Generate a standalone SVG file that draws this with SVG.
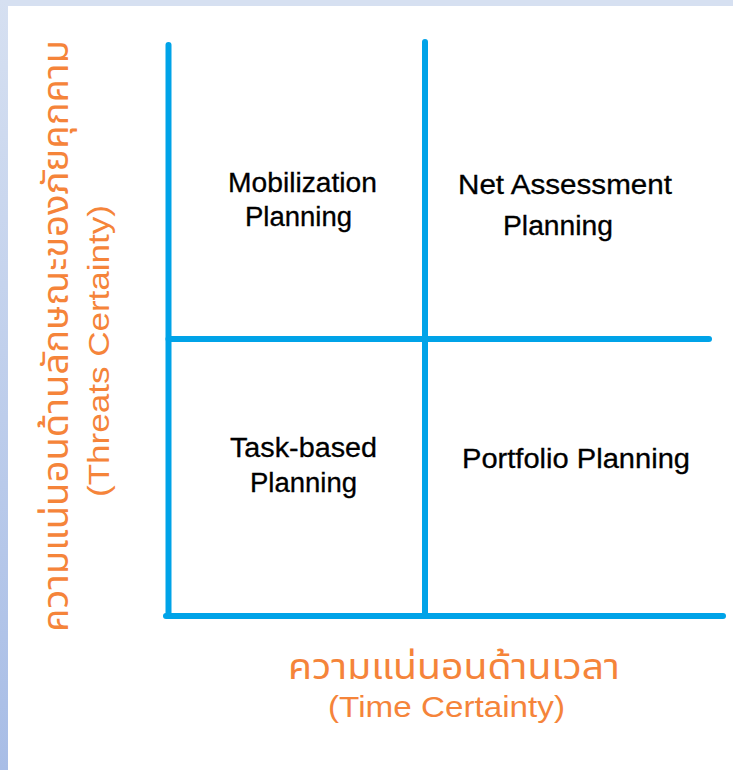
<svg xmlns="http://www.w3.org/2000/svg" width="733" height="770" viewBox="0 0 733 770">
  <defs>
    <linearGradient id="sideGrad" x1="0" y1="0" x2="0" y2="1">
      <stop offset="0" stop-color="#d6e0f1"/>
      <stop offset="1" stop-color="#a8bde6"/>
    </linearGradient>
    <style>
      .grid { stroke: #00a3e8; stroke-width: 6; stroke-linecap: round; fill: none; }
      .lbl { font-family: "Liberation Sans", Arial, sans-serif; font-size: 27px; fill: #000000; stroke: #000000; stroke-width: 0.3; }
      .axis { font-family: "Liberation Sans", "Noto Sans Thai", "Noto Sans", "DejaVu Sans", sans-serif; fill: #f5843a; }
      .thai { font-size: 35px; }
      .eng { font-size: 30px; }
    </style>
  </defs>
  <rect x="0" y="0" width="733" height="770" fill="#d6e0f1"/>
  <rect x="0" y="0" width="8" height="770" fill="url(#sideGrad)"/>
  <rect x="8" y="6" width="725" height="764" fill="#ffffff"/>

  <g id="connectors">
    <line class="grid" x1="168.5" y1="45" x2="168.5" y2="616"/>
    <line class="grid" x1="425" y1="42" x2="425" y2="616"/>
    <line class="grid" x1="168.5" y1="339" x2="709" y2="339"/>
    <line class="grid" x1="166" y1="616" x2="723" y2="616"/>
  </g>

  <g id="mobilization">
    <text class="lbl" x="228" y="192" textLength="149" lengthAdjust="spacingAndGlyphs">Mobilization</text>
    <text class="lbl" x="245" y="226" textLength="107" lengthAdjust="spacingAndGlyphs">Planning</text>
  </g>
  <g id="net-assessment">
    <text class="lbl" x="458" y="194" textLength="214" lengthAdjust="spacingAndGlyphs">Net Assessment</text>
    <text class="lbl" x="503" y="235" textLength="110" lengthAdjust="spacingAndGlyphs">Planning</text>
  </g>
  <g id="task-based">
    <text class="lbl" x="230" y="457" textLength="147" lengthAdjust="spacingAndGlyphs">Task-based</text>
    <text class="lbl" x="250" y="492" textLength="107" lengthAdjust="spacingAndGlyphs">Planning</text>
  </g>
  <g id="portfolio">
    <text class="lbl" x="462" y="468" textLength="228" lengthAdjust="spacingAndGlyphs">Portfolio Planning</text>
  </g>

  <g id="x-axis-label">
    <text class="axis thai" x="288" y="679" textLength="332" lengthAdjust="spacingAndGlyphs">ความแน่นอนด้านเวลา</text>
    <text class="axis eng" x="328" y="717" textLength="237" lengthAdjust="spacingAndGlyphs">(Time Certainty)</text>
  </g>
  <g id="y-axis-label">
    <text class="axis thai" transform="translate(68,632) rotate(-90)" x="0" y="0" textLength="592" lengthAdjust="spacingAndGlyphs">ความแน่นอนด้านลักษณะของภัยคุกคาม</text>
    <text class="axis eng" transform="translate(109,497) rotate(-90)" x="0" y="0" textLength="292" lengthAdjust="spacingAndGlyphs">(Threats Certainty)</text>
  </g>
</svg>
